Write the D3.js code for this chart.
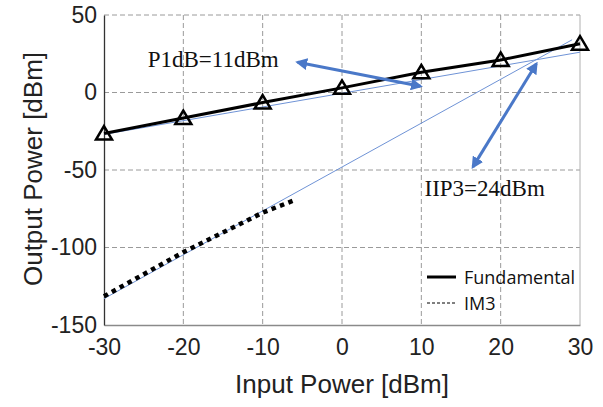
<!DOCTYPE html>
<html>
<head>
<meta charset="utf-8">
<script src="https://cdn.jsdelivr.net/npm/d3@7"></script>
<style>
	body { margin: 0; background: #fff; }
	svg { display: block; }
</style>
</head>
<body>
<div id="chart"></div>
<script>

///////////////////////////////////////////////////////////////////////////
///////////////////////////////// Data ////////////////////////////////////
///////////////////////////////////////////////////////////////////////////

var xTicks = [-30, -20, -10, 0, 10, 20, 30];
var yTicks = [-150, -100, -50, 0, 50];

//Fundamental output (measured points)
var fundIn  = [-30, -20, -10, 0, 10, 20, 30];
var fundOut = [-26.5, -16.5, -6.5, 3, 13, 21, 31.5];

//IM3 output (measured, low drive only)
var im3In  = [-30, -20, -10, -6];
var im3Out = [-131.5, -103, -77.5, -69.5];

//Extrapolated (fitted) lines, end points
var fundFitIn  = [-30, 30];
var fundFitOut = [-27, 26];
var im3FitIn   = [-30, 29];
var im3FitOut  = [-133, 34];

//Annotation arrows [x1, y1, x2, y2] in data units
var p1dbArrow = [-5.6, 19.5, 9.9, 4];
var iip3Arrow = [24.5, 18.5, 16.5, -48];

var legendLabels = ["Fundamental", "IM3"];

///////////////////////////////////////////////////////////////////////////
//////////////////////////////// Set up ///////////////////////////////////
///////////////////////////////////////////////////////////////////////////

var W = 603, H = 407;
var margin = { top: 15, right: 23, bottom: 82, left: 104 };
var width = W - margin.left - margin.right,
	height = H - margin.top - margin.bottom;

var svg = d3.select("#chart").append("svg")
	.attr("width", W)
	.attr("height", H);

var defs = svg.append("defs");
defs.append("marker")
	.attr("id", "arrow")
	.attr("viewBox", "0 0 10 10")
	.attr("refX", 8).attr("refY", 5)
	.attr("markerWidth", 4).attr("markerHeight", 4)
	.attr("orient", "auto-start-reverse")
	.append("path")
	.attr("d", "M0,0L10,5L0,10Z")
	.style("fill", "#4a78c8");

var g = svg.append("g")
	.attr("transform", "translate(" + margin.left + "," + margin.top + ")");

var x = d3.scaleLinear().domain([-30, 30]).range([0, width]);
var y = d3.scaleLinear().domain([-150, 50]).range([height, 0]);

///////////////////////////////////////////////////////////////////////////
///////////////////////////////// Grid ////////////////////////////////////
///////////////////////////////////////////////////////////////////////////

g.selectAll(".vgrid")
	.data(xTicks.filter(function(d) { return d > -30 && d < 30; }))
	.enter().append("line")
	.attr("class", "vgrid")
	.attr("x1", function(d) { return x(d); }).attr("x2", function(d) { return x(d); })
	.attr("y1", 0).attr("y2", height)
	.style("stroke", "#9a9a9a")
	.style("stroke-dasharray", "5,3");

g.selectAll(".hgrid")
	.data(yTicks.filter(function(d) { return d > -150; }))
	.enter().append("line")
	.attr("class", "hgrid")
	.attr("x1", 0).attr("x2", width)
	.attr("y1", function(d) { return y(d); }).attr("y2", function(d) { return y(d); })
	.style("stroke", "#9a9a9a")
	.style("stroke-dasharray", "5,3");

//Right border
g.append("line")
	.attr("x1", width).attr("x2", width)
	.attr("y1", 0).attr("y2", height)
	.style("stroke", "#b0b0b0");

///////////////////////////////////////////////////////////////////////////
///////////////////////////////// Axes ////////////////////////////////////
///////////////////////////////////////////////////////////////////////////

//plain hyphen for negatives, like the original
var fmt = function(d) { return String(d); };

var xAxis = g.append("g")
	.attr("transform", "translate(0," + height + ")")
	.call(d3.axisBottom(x).tickValues(xTicks).tickFormat(fmt).tickSize(0).tickPadding(12));
xAxis.select(".domain").style("stroke", "#8a8a8a").style("stroke-width", 1.5);

var yAxis = g.append("g")
	.call(d3.axisLeft(y).tickValues(yTicks).tickFormat(fmt).tickSize(0).tickPadding(7));
yAxis.select(".domain").style("stroke", "#333").style("stroke-width", 1.3);

g.selectAll(".tick text")
	.style("font-family", "'Liberation Sans', Arial, sans-serif")
	.style("font-size", "23px")
	.style("fill", "#222");
xAxis.selectAll(".tick text").attr("dy", "0.8em");

svg.append("text")
	.attr("x", margin.left + width / 2)
	.attr("y", 393)
	.attr("text-anchor", "middle")
	.style("font-family", "'Liberation Sans', Arial, sans-serif")
	.style("font-size", "26px")
	.style("fill", "#222")
	.text("Input Power [dBm]");

svg.append("text")
	.attr("transform", "translate(42," + 169 + ") rotate(-90)")
	.attr("text-anchor", "middle")
	.style("font-family", "'Liberation Sans', Arial, sans-serif")
	.style("font-size", "26px")
	.style("fill", "#222")
	.text("Output Power [dBm]");

///////////////////////////////////////////////////////////////////////////
///////////////////////////////// Lines ///////////////////////////////////
///////////////////////////////////////////////////////////////////////////

var line = d3.line()
	.x(function(d) { return x(d[0]); })
	.y(function(d) { return y(d[1]); });

var zip = function(a, b) { return a.map(function(v, i) { return [v, b[i]]; }); };

//Thin fitted lines
g.append("path")
	.attr("d", line(zip(fundFitIn, fundFitOut)))
	.style("fill", "none").style("stroke", "#6f93d6").style("stroke-width", 1);
g.append("path")
	.attr("d", line(zip(im3FitIn, im3FitOut)))
	.style("fill", "none").style("stroke", "#6f93d6").style("stroke-width", 1);

//IM3 measured
g.append("path")
	.attr("d", line(zip(im3In, im3Out)))
	.style("fill", "none")
	.style("stroke", "#000")
	.style("stroke-width", 4.5)
	.style("stroke-dasharray", "4.5,4.5");

//Fundamental measured
g.append("path")
	.attr("d", line(zip(fundIn, fundOut)))
	.style("fill", "none")
	.style("stroke", "#000")
	.style("stroke-width", 3);

g.selectAll(".marker")
	.data(zip(fundIn, fundOut))
	.enter().append("path")
	.attr("class", "marker")
	.attr("transform", function(d) { return "translate(" + x(d[0]) + "," + y(d[1]) + ")"; })
	.attr("d", "M0,-7.5L8,6L-8,6Z")
	.style("fill", "none")
	.style("stroke", "#000")
	.style("stroke-width", 2.5)
	.style("stroke-linejoin", "miter");

///////////////////////////////////////////////////////////////////////////
////////////////////////////// Annotations ////////////////////////////////
///////////////////////////////////////////////////////////////////////////

[p1dbArrow, iip3Arrow].forEach(function(a) {
	g.append("line")
		.attr("x1", x(a[0])).attr("y1", y(a[1]))
		.attr("x2", x(a[2])).attr("y2", y(a[3]))
		.style("stroke", "#4a78c8")
		.style("stroke-width", 3)
		.attr("marker-start", "url(#arrow)")
		.attr("marker-end", "url(#arrow)");
});

g.append("text")
	.attr("x", x(-24.5)).attr("y", y(16.3))
	.style("font-family", "'Liberation Serif', 'Times New Roman', serif")
	.style("font-size", "23px")
	.style("fill", "#111")
	.text("P1dB=11dBm");

g.append("text")
	.attr("x", x(10.4)).attr("y", y(-67))
	.style("font-family", "'Liberation Serif', 'Times New Roman', serif")
	.style("font-size", "23px")
	.style("fill", "#111")
	.text("IIP3=24dBm");

///////////////////////////////////////////////////////////////////////////
///////////////////////////////// Legend //////////////////////////////////
///////////////////////////////////////////////////////////////////////////

var legend = svg.append("g").attr("transform", "translate(427,277)");

legend.append("line")
	.attr("x1", 0).attr("x2", 29).attr("y1", 0).attr("y2", 0)
	.style("stroke", "#000").style("stroke-width", 3);
legend.append("line")
	.attr("x1", 0).attr("x2", 30).attr("y1", 26).attr("y2", 26)
	.style("stroke", "#000").style("stroke-width", 1)
	.style("stroke-dasharray", "3,2");

legend.selectAll(".legend-text")
	.data(legendLabels)
	.enter().append("text")
	.attr("class", "legend-text")
	.attr("x", 37)
	.attr("y", function(d, i) { return i * 26 + 6.5; })
	.style("font-family", "'Open Sans', 'Liberation Sans', sans-serif")
	.style("font-size", "18px")
	.style("fill", "#111")
	.text(function(d) { return d; });

</script>
</body>
</html>
